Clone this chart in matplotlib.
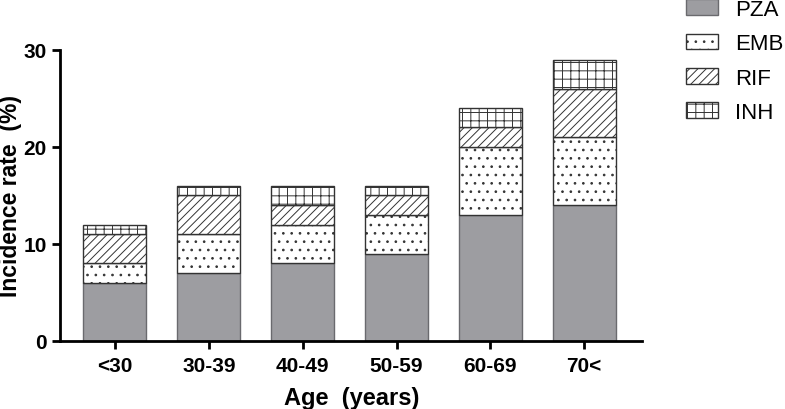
import numpy as np
import matplotlib
matplotlib.use("Agg")
import matplotlib.pyplot as plt

plt.rcParams["font.family"] = ["Liberation Sans", "DejaVu Sans"]
plt.rcParams["hatch.linewidth"] = 0.7

ages = ["<30", "30-39", "40-49", "50-59", "60-69", "70<"]
pza = [6, 7, 8, 9, 13, 14]
emb = [2, 4, 4, 4, 7, 7]
rif = [3, 4, 2, 2, 2, 5]
inh = [1, 1, 2, 1, 2, 3]

names = ["PZA", "EMB", "RIF", "INH"]
series = [pza, emb, rif, inh]
faces = ["#9d9da1", "white", "white", "white"]
edges = ["#6a6a6e", "#333333", "#333333", "#333333"]
hatches = [None, "..", "////", "++"]

fig = plt.figure(figsize=(7.85, 4.1), dpi=100)
ax = fig.add_axes([0.0764, 0.166, 0.742, 0.71])

x = np.arange(len(ages))
bottom = np.zeros(len(ages))
handles = []
for name, vals, fc, ec, h in zip(names, series, faces, edges, hatches):
    b = ax.bar(x, vals, width=0.67, bottom=bottom, color=fc, edgecolor=ec,
               hatch=h, linewidth=1.0, label=name)
    handles.append(b)
    bottom += np.array(vals)

ax.set_xlim(-0.585, 5.62)
ax.set_ylim(0, 30)
ax.set_yticks([0, 10, 20, 30])
ax.set_xticks(x)
ax.set_xticklabels(ages)
for s in ["top", "right"]:
    ax.spines[s].set_visible(False)
for s in ["left", "bottom"]:
    ax.spines[s].set_linewidth(2)
ax.tick_params(width=2, length=6, labelsize=15)
ax.tick_params(axis="x", pad=5)
for lab in ax.get_xticklabels() + ax.get_yticklabels():
    lab.set_fontweight("bold")
ax.set_xlabel("Age  (years)", fontsize=17, fontweight="bold", labelpad=8)
ax.set_ylabel("Incidence rate  (%)", fontsize=16.5, fontweight="bold")
ax.yaxis.set_label_coords(-0.066, 0.5)

fig.legend(handles=handles, labels=names, loc="upper left",
           bbox_to_anchor=(0.874, 1.0), frameon=False, fontsize=16,
           borderpad=0, borderaxespad=0,
           handlelength=1.45, handleheight=0.72, labelspacing=0.6, handletextpad=0.75)

fig.savefig("out.png", dpi=100)
